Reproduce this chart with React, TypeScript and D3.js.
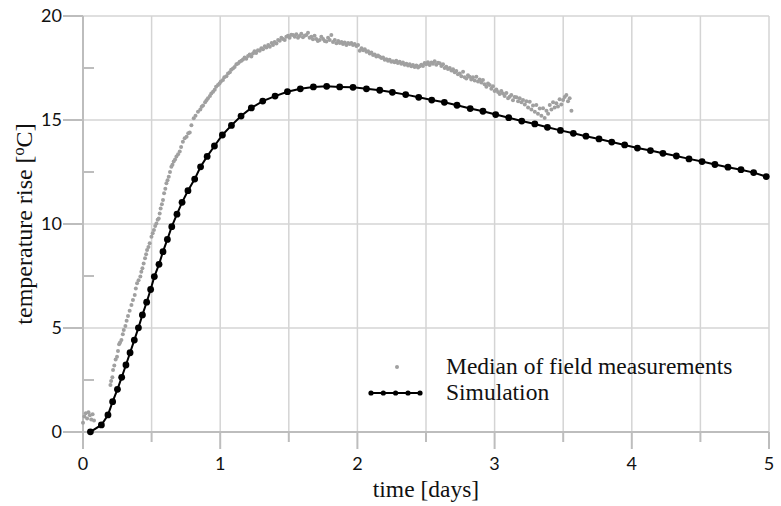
import React from "react";
import * as d3 from "d3";

// simulation curve [time (days), temperature rise (°C)]
const simulation: [number, number][] = [
  [0.054, 0.01], [0.134, 0.34], [0.182, 0.82], [0.216, 1.46], [0.251, 2.05],
  [0.282, 2.63], [0.313, 3.22], [0.343, 3.81], [0.374, 4.42], [0.404, 5.01],
  [0.433, 5.63], [0.464, 6.24], [0.493, 6.85], [0.52, 7.47], [0.554, 8.06],
  [0.583, 8.67], [0.615, 9.26], [0.647, 9.87], [0.685, 10.47], [0.722, 11.04],
  [0.765, 11.6], [0.814, 12.16], [0.857, 12.75], [0.905, 13.25], [0.958, 13.75],
  [1.016, 14.28], [1.082, 14.74], [1.152, 15.19], [1.227, 15.58], [1.31, 15.91],
  [1.4, 16.15], [1.49, 16.36], [1.584, 16.5], [1.679, 16.59], [1.776, 16.62],
  [1.871, 16.59], [1.968, 16.57], [2.066, 16.5], [2.163, 16.43], [2.255, 16.33],
  [2.352, 16.22], [2.447, 16.09], [2.542, 15.96], [2.634, 15.85], [2.726, 15.71],
  [2.822, 15.55], [2.915, 15.42], [3.008, 15.26], [3.103, 15.11], [3.198, 14.95],
  [3.293, 14.81], [3.385, 14.65], [3.48, 14.5], [3.574, 14.36], [3.666, 14.22],
  [3.761, 14.09], [3.854, 13.94], [3.948, 13.8], [4.041, 13.65], [4.136, 13.53],
  [4.227, 13.4], [4.325, 13.27], [4.417, 13.13], [4.512, 13.0], [4.606, 12.86],
  [4.701, 12.73], [4.796, 12.61], [4.888, 12.47], [4.98, 12.28],
];

// median of field measurements [time (days), temperature rise (°C)]
const measurements: [number, number][] = [
  [0.0, 0.45], [0.01, 0.75], [0.02, 0.9], [0.03, 0.65], [0.04, 0.95], [0.05, 0.8],
  [0.06, 0.6], [0.07, 0.85], [0.08, 0.55],
  [0.2, 2.26], [0.205, 2.45], [0.214, 2.63], [0.219, 2.98], [0.228, 3.2], [0.238, 3.49],
  [0.248, 3.62], [0.255, 3.9], [0.263, 4.22], [0.27, 4.3], [0.28, 4.42], [0.29, 4.7],
  [0.297, 4.9], [0.309, 5.1], [0.318, 5.35], [0.328, 5.58], [0.34, 5.83], [0.353, 6.11],
  [0.364, 6.35], [0.377, 6.59], [0.385, 6.9], [0.394, 7.15], [0.405, 7.3], [0.418, 7.47],
  [0.425, 7.7], [0.433, 7.87], [0.442, 8.1], [0.452, 8.35], [0.46, 8.55], [0.467, 8.75],
  [0.477, 8.9], [0.486, 9.07], [0.499, 9.39], [0.508, 9.55], [0.517, 9.71], [0.526, 9.9],
  [0.535, 10.03], [0.544, 10.2], [0.552, 10.27], [0.559, 10.5], [0.566, 10.75],
  [0.575, 10.95], [0.583, 11.15], [0.591, 11.48], [0.6, 11.7], [0.608, 11.96],
  [0.616, 12.1], [0.625, 12.27], [0.634, 12.5], [0.644, 12.75], [0.652, 12.85],
  [0.661, 13.0], [0.671, 13.1], [0.681, 13.24], [0.693, 13.35], [0.705, 13.48],
  [0.715, 13.7], [0.728, 13.95], [0.741, 14.12], [0.755, 14.2], [0.767, 14.36],
  [0.778, 14.4], [0.79, 14.75], [0.807, 15.08], [0.82, 15.2], [0.838, 15.4],
  [0.855, 15.5], [0.865, 15.64], [0.875, 15.7], [0.89, 15.85], [0.9, 15.95],
  [0.911, 16.04], [0.925, 16.15], [0.935, 16.28], [0.948, 16.36], [0.96, 16.45],
  [0.97, 16.6], [0.984, 16.68], [0.995, 16.75], [1.005, 16.85], [1.02, 16.92],
  [1.03, 17.05], [1.045, 17.1], [1.057, 17.24], [1.07, 17.3], [1.08, 17.42],
  [1.093, 17.48], [1.105, 17.55], [1.118, 17.68], [1.13, 17.72], [1.142, 17.8],
  [1.155, 17.85], [1.166, 17.91], [1.178, 18.0], [1.19, 17.95], [1.203, 18.08],
  [1.215, 18.15], [1.227, 18.05], [1.239, 18.2], [1.25, 18.3], [1.262, 18.22],
  [1.275, 18.35], [1.288, 18.33], [1.3, 18.45], [1.312, 18.4], [1.325, 18.55],
  [1.337, 18.49], [1.35, 18.6], [1.362, 18.52], [1.375, 18.7], [1.385, 18.61],
  [1.397, 18.75], [1.41, 18.68], [1.422, 18.85], [1.434, 18.81], [1.446, 18.95],
  [1.458, 18.9], [1.47, 18.85], [1.482, 19.0], [1.494, 19.05], [1.506, 18.95],
  [1.518, 19.1], [1.531, 19.09], [1.543, 19.0], [1.555, 19.12], [1.567, 18.95],
  [1.579, 19.04], [1.591, 19.15], [1.603, 18.98], [1.615, 19.05], [1.628, 19.09],
  [1.64, 19.2], [1.652, 18.95], [1.664, 19.0], [1.676, 18.88], [1.688, 19.05],
  [1.7, 18.9], [1.712, 18.8], [1.725, 18.85], [1.737, 19.0], [1.75, 18.9],
  [1.762, 18.8], [1.774, 18.77], [1.786, 18.95], [1.798, 18.85], [1.81, 19.09],
  [1.822, 18.75], [1.835, 18.85], [1.847, 18.69], [1.86, 18.8], [1.872, 18.7],
  [1.884, 18.75], [1.895, 18.65], [1.907, 18.72], [1.92, 18.6], [1.932, 18.7],
  [1.944, 18.65], [1.956, 18.7], [1.968, 18.6], [1.98, 18.65], [1.993, 18.56],
  [2.005, 18.6], [2.017, 18.33], [2.03, 18.45], [2.042, 18.35], [2.054, 18.4],
  [2.066, 18.28], [2.078, 18.3], [2.09, 18.2], [2.102, 18.25], [2.114, 18.12],
  [2.126, 18.15], [2.138, 18.05], [2.15, 18.1], [2.163, 18.04], [2.175, 17.98],
  [2.187, 18.0], [2.199, 17.9], [2.211, 17.92], [2.223, 17.85], [2.235, 17.9],
  [2.247, 17.8], [2.259, 17.82], [2.271, 17.78], [2.283, 17.85], [2.295, 17.74],
  [2.308, 17.8], [2.32, 17.7], [2.332, 17.76], [2.344, 17.66], [2.357, 17.7],
  [2.369, 17.62], [2.381, 17.68], [2.393, 17.58], [2.405, 17.64], [2.417, 17.55],
  [2.43, 17.62], [2.442, 17.52], [2.454, 17.58], [2.466, 17.66], [2.478, 17.6],
  [2.49, 17.74], [2.502, 17.68], [2.514, 17.78], [2.527, 17.64], [2.539, 17.76],
  [2.551, 17.7], [2.563, 17.82], [2.575, 17.66], [2.588, 17.75], [2.6, 17.73],
  [2.612, 17.6], [2.624, 17.68], [2.636, 17.5], [2.648, 17.56], [2.66, 17.45],
  [2.673, 17.5], [2.685, 17.38], [2.697, 17.44], [2.709, 17.3], [2.721, 17.35],
  [2.733, 17.2], [2.746, 17.24], [2.758, 17.1], [2.77, 17.32], [2.782, 17.05],
  [2.794, 17.0], [2.806, 17.15], [2.818, 17.08], [2.83, 16.95], [2.842, 17.05],
  [2.855, 16.9], [2.867, 17.08], [2.879, 16.85], [2.891, 16.95], [2.903, 16.8],
  [2.915, 16.92], [2.927, 16.72], [2.94, 16.6], [2.952, 16.75], [2.964, 16.68],
  [2.976, 16.5], [2.988, 16.62], [3.0, 16.4], [3.013, 16.47], [3.025, 16.35],
  [3.037, 16.25], [3.049, 16.4], [3.061, 16.28], [3.073, 16.15], [3.086, 16.3],
  [3.098, 16.05], [3.11, 16.12], [3.122, 16.2], [3.134, 15.95], [3.146, 16.1],
  [3.159, 16.09], [3.171, 15.9], [3.183, 16.05], [3.195, 15.85], [3.207, 15.96],
  [3.22, 15.75], [3.232, 15.9], [3.244, 15.6], [3.256, 15.88], [3.268, 15.5],
  [3.28, 15.7], [3.293, 15.4], [3.304, 15.72], [3.316, 15.3], [3.329, 15.55],
  [3.341, 15.2], [3.353, 15.56], [3.365, 15.1], [3.378, 15.45], [3.39, 15.3],
  [3.402, 15.72], [3.414, 15.5], [3.426, 15.85], [3.438, 15.6], [3.45, 15.8],
  [3.462, 15.65], [3.474, 16.0], [3.486, 15.75], [3.499, 15.96], [3.511, 16.1],
  [3.523, 16.2], [3.535, 15.9], [3.547, 16.05], [3.56, 15.45],
];

const xTicks = [0, 1, 2, 3, 4, 5];
const xMinorTicks = [0.5, 1.5, 2.5, 3.5, 4.5];
const yTicks = [0, 5, 10, 15, 20];
const yMinorTicks = [2.5, 7.5, 12.5, 17.5];

const legendLabels = ["Median of field measurements", "Simulation"];

const W = 781;
const H = 506;
const margin = { top: 16, right: 12, bottom: 74, left: 83 };

const tickFont = "Lato, 'Open Sans', sans-serif";
const titleFont = "'Liberation Serif', 'DejaVu Serif', serif";

export default function App() {
  const x = d3.scaleLinear().domain([0, 5]).range([margin.left, W - margin.right]);
  const y = d3.scaleLinear().domain([0, 20]).range([H - margin.bottom, margin.top]);

  const line = d3
    .line<[number, number]>()
    .x((d) => x(d[0]))
    .y((d) => y(d[1]));

  const gridColor = "#d4d4d4";
  const axisColor = "#bdbdbd";

  return (
    <svg
      width={W}
      height={H}
      style={{ position: "absolute", left: 0, top: 0, background: "#fff" }}
    >
      {/* grid */}
      {[...xTicks, ...xMinorTicks].map((t) => (
        <line key={"gx" + t} x1={x(t)} x2={x(t)} y1={y(0)} y2={y(20)} stroke={gridColor} strokeWidth={1.5} />
      ))}
      {yTicks.map((t) => (
        <line key={"gy" + t} x1={x(0)} x2={x(5)} y1={y(t)} y2={y(t)} stroke={gridColor} strokeWidth={1.5} />
      ))}

      {/* axes */}
      <line x1={x(0)} x2={x(5)} y1={y(0)} y2={y(0)} stroke={axisColor} strokeWidth={2} />
      <line x1={x(0)} x2={x(0)} y1={y(0)} y2={y(20)} stroke={axisColor} strokeWidth={2} />
      {xTicks.map((t) => (
        <line key={"xt" + t} x1={x(t)} x2={x(t)} y1={y(0)} y2={y(0) + 17} stroke={axisColor} strokeWidth={2} />
      ))}
      {xMinorTicks.map((t) => (
        <line key={"xm" + t} x1={x(t)} x2={x(t)} y1={y(0)} y2={y(0) + 10} stroke={axisColor} strokeWidth={2} />
      ))}
      {yTicks.map((t) => (
        <line key={"yt" + t} x1={x(0) - 20} x2={x(0)} y1={y(t)} y2={y(t)} stroke={axisColor} strokeWidth={2} />
      ))}
      {yMinorTicks.map((t) => (
        <line key={"ym" + t} x1={x(0)} x2={x(0) + 11} y1={y(t)} y2={y(t)} stroke={axisColor} strokeWidth={2} />
      ))}

      {/* tick labels */}
      {xTicks.map((t) => (
        <text key={"xl" + t} x={x(t)} y={y(0) + 38} textAnchor="middle" fontFamily={tickFont} fontSize={18} fill="#111">
          {t}
        </text>
      ))}
      {yTicks.map((t) => (
        <text key={"yl" + t} x={x(0) - 21} y={y(t)} dy="0.36em" textAnchor="end" fontFamily={tickFont} fontSize={18} fill="#111">
          {t}
        </text>
      ))}

      {/* axis titles */}
      <text x={(x(0) + x(5)) / 2} y={497} textAnchor="middle" fontFamily={titleFont} fontSize={23.5} fill="#111">
        time [days]
      </text>
      <text
        transform={`translate(32, ${(y(0) + y(20)) / 2}) rotate(-90)`}
        textAnchor="middle"
        fontFamily={titleFont}
        fontSize={24}
        fill="#111"
      >
        temperature rise [
        <tspan fontSize={16} dy={-8}>o</tspan>
        <tspan dy={8}>C]</tspan>
      </text>

      {/* measurements */}
      {measurements.map((d, i) => (
        <circle key={"m" + i} cx={x(d[0])} cy={y(d[1])} r={2} fill="#a0a0a0" />
      ))}

      {/* simulation */}
      <path d={line(simulation) ?? ""} fill="none" stroke="#000" strokeWidth={2} />
      {simulation.map((d, i) => (
        <circle key={"s" + i} cx={x(d[0])} cy={y(d[1])} r={3.4} fill="#000" />
      ))}

      {/* legend */}
      <circle cx={397} cy={367} r={2} fill="#a0a0a0" />
      <text x={446} y={374} fontFamily={titleFont} fontSize={23.5} fill="#111">
        {legendLabels[0]}
      </text>
      <line x1={371} x2={420} y1={393} y2={393} stroke="#000" strokeWidth={2} />
      {[371, 383.3, 395.6, 408, 420].map((cx) => (
        <circle key={"lg" + cx} cx={cx} cy={393} r={2.6} fill="#000" />
      ))}
      <text x={446} y={400} fontFamily={titleFont} fontSize={23.5} fill="#111">
        {legendLabels[1]}
      </text>
    </svg>
  );
}
